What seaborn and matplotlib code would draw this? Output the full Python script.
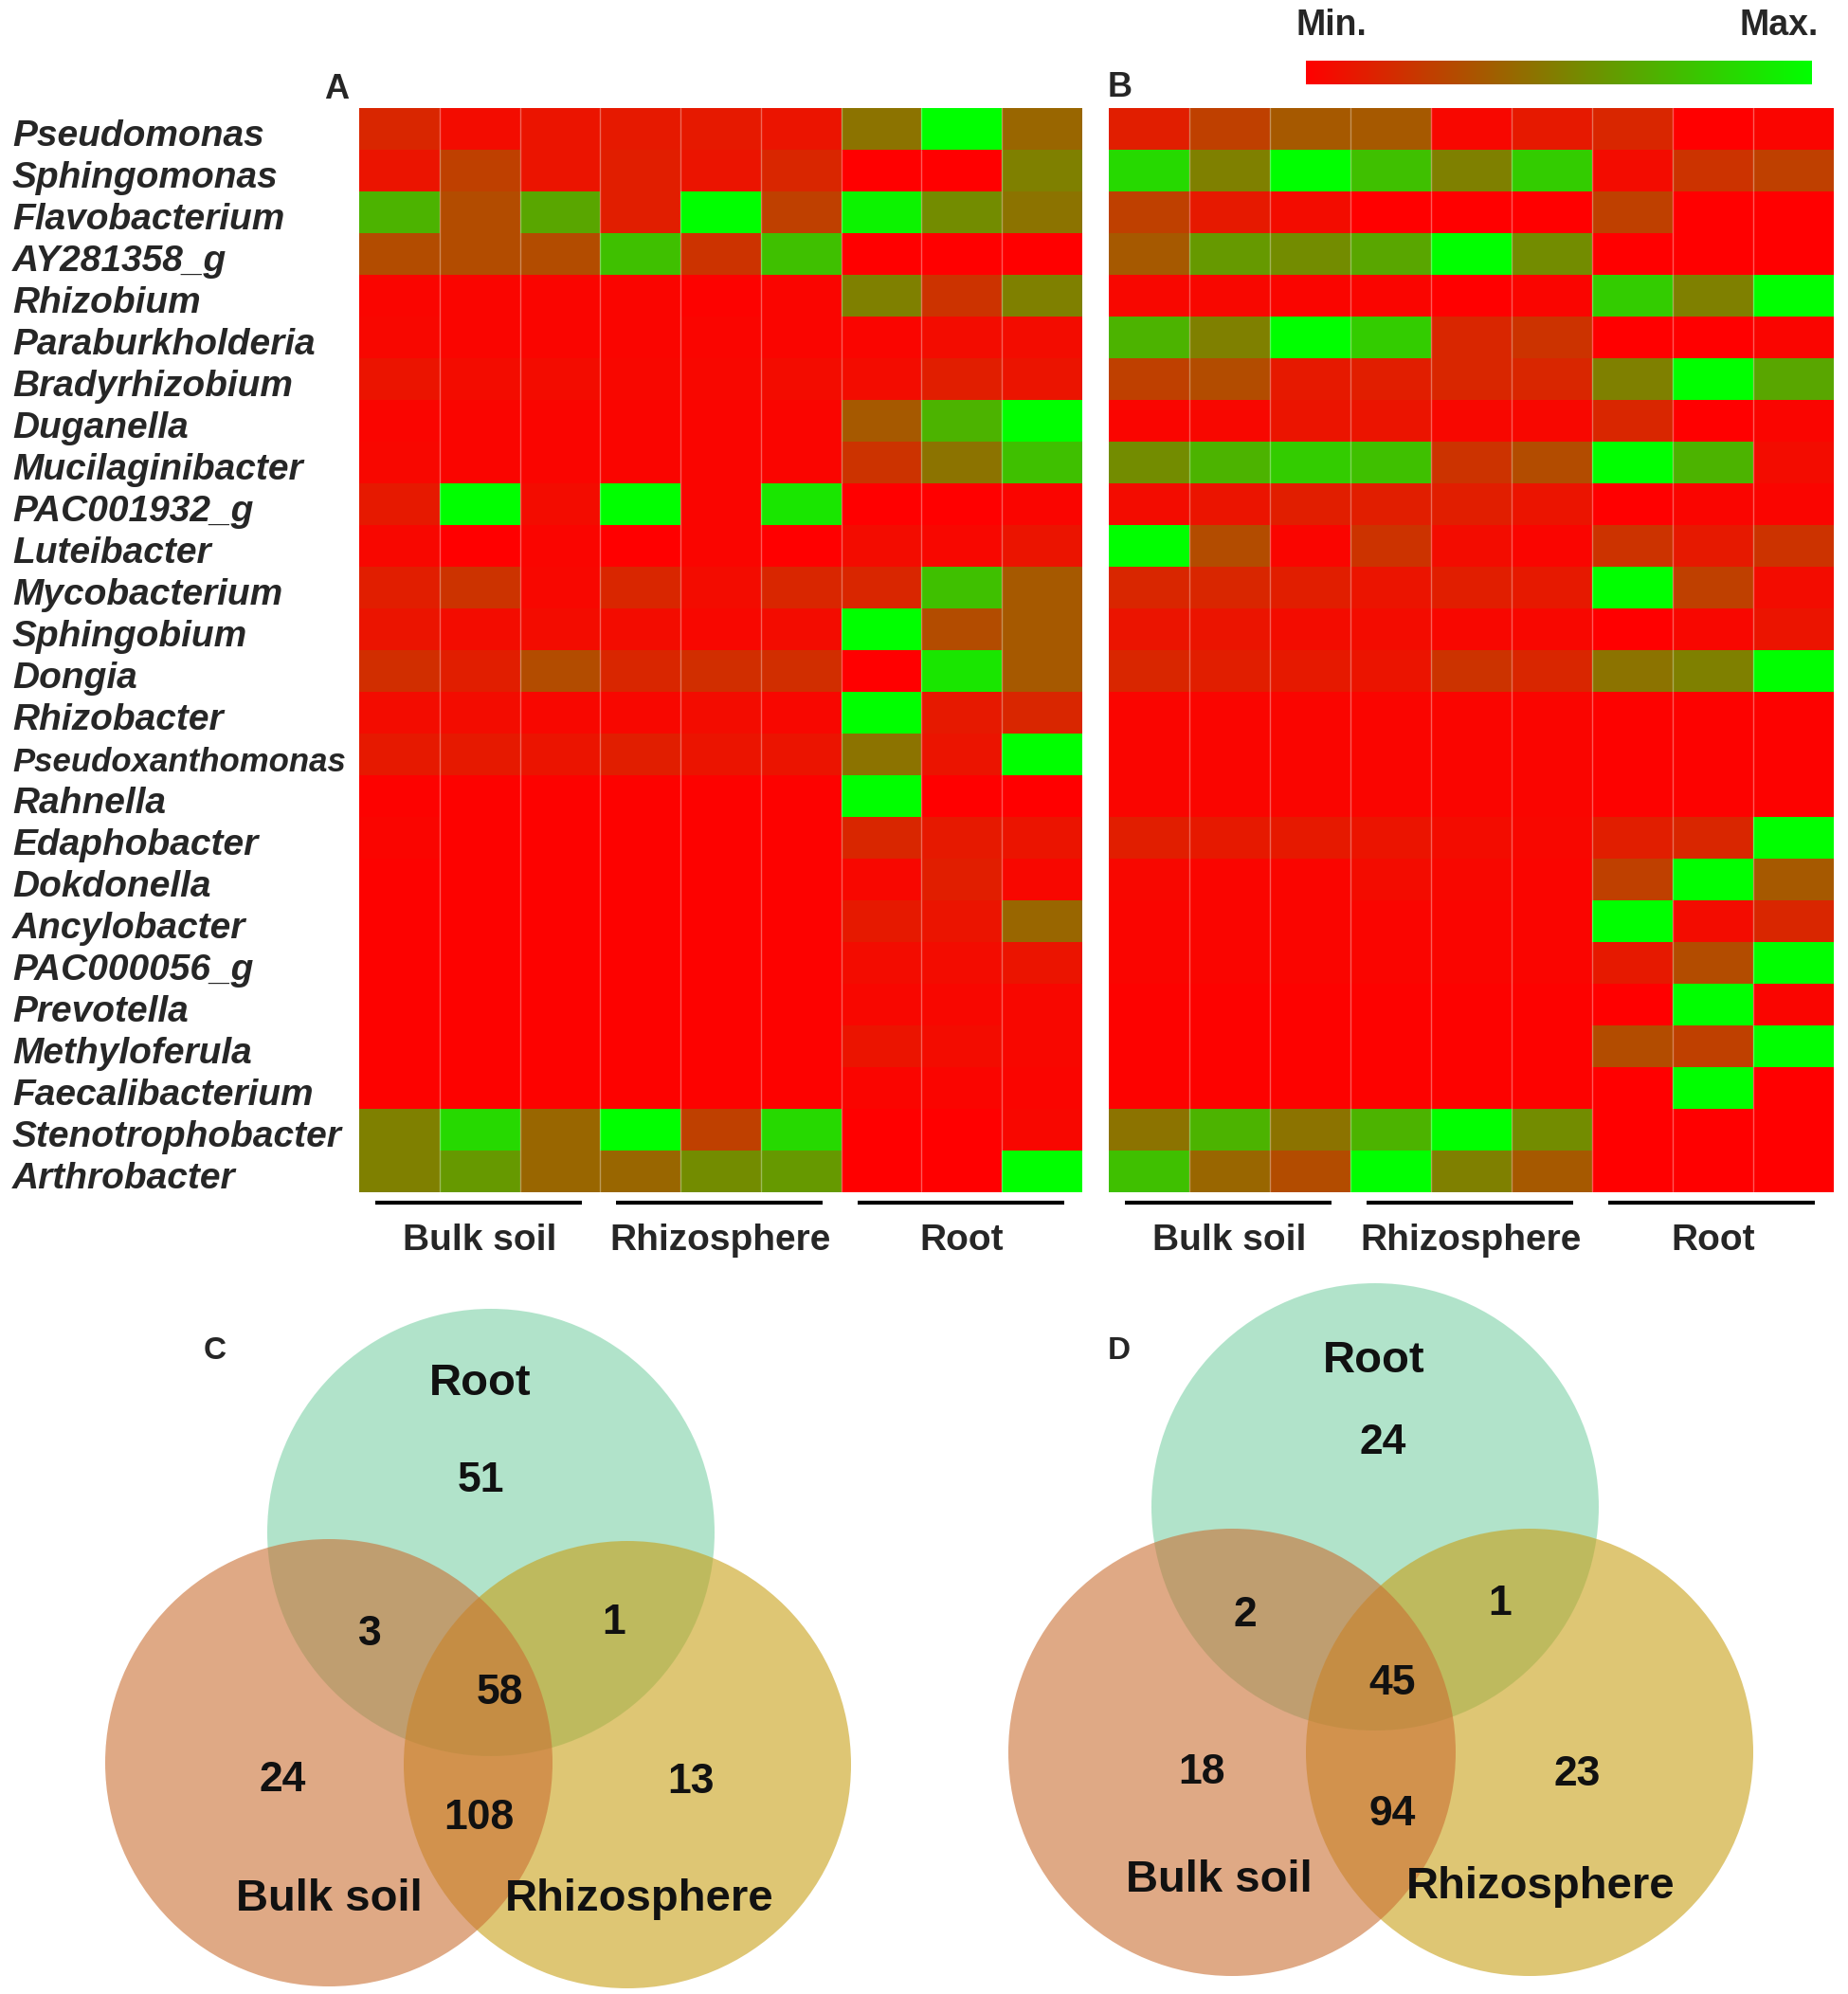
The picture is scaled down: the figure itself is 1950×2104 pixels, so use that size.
import numpy as np
import pandas as pd
import matplotlib
matplotlib.use("Agg")
import matplotlib.pyplot as plt
import matplotlib.transforms as mtransforms
import seaborn as sns
from matplotlib.colors import LinearSegmentedColormap
from matplotlib.patches import Circle

# ---------------- data ----------------
genera = ["Pseudomonas", "Sphingomonas", "Flavobacterium", "AY281358_g", "Rhizobium",
          "Paraburkholderia", "Bradyrhizobium", "Duganella", "Mucilaginibacter",
          "PAC001932_g", "Luteibacter", "Mycobacterium", "Sphingobium", "Dongia",
          "Rhizobacter", "Pseudoxanthomonas", "Rahnella", "Edaphobacter", "Dokdonella",
          "Ancylobacter", "PAC000056_g", "Prevotella", "Methyloferula",
          "Faecalibacterium", "Stenotrophobacter", "Arthrobacter"]
groups = ["Bulk soil", "Rhizosphere", "Root"]
samples = ["BS1", "BS2", "BS3", "RS1", "RS2", "RS3", "RT1", "RT2", "RT3"]

panel_a = [
    [0.15, 0.05, 0.08, 0.10, 0.10, 0.08, 0.45, 1.00, 0.40],
    [0.08, 0.25, 0.08, 0.12, 0.08, 0.15, 0.00, 0.00, 0.50],
    [0.70, 0.30, 0.65, 0.12, 1.00, 0.25, 0.95, 0.55, 0.45],
    [0.30, 0.30, 0.30, 0.75, 0.20, 0.75, 0.00, 0.00, 0.00],
    [0.02, 0.02, 0.02, 0.02, 0.01, 0.02, 0.50, 0.20, 0.50],
    [0.03, 0.02, 0.02, 0.02, 0.02, 0.02, 0.02, 0.05, 0.05],
    [0.08, 0.05, 0.05, 0.03, 0.03, 0.05, 0.05, 0.12, 0.08],
    [0.02, 0.02, 0.02, 0.02, 0.02, 0.02, 0.35, 0.70, 1.00],
    [0.03, 0.02, 0.02, 0.02, 0.02, 0.02, 0.20, 0.45, 0.75],
    [0.10, 1.00, 0.05, 1.00, 0.02, 0.90, 0.00, 0.00, 0.02],
    [0.03, 0.00, 0.02, 0.00, 0.02, 0.00, 0.05, 0.03, 0.08],
    [0.12, 0.20, 0.03, 0.15, 0.05, 0.15, 0.15, 0.75, 0.35],
    [0.08, 0.05, 0.05, 0.05, 0.03, 0.05, 1.00, 0.30, 0.35],
    [0.18, 0.12, 0.30, 0.15, 0.18, 0.18, 0.00, 0.90, 0.35],
    [0.05, 0.05, 0.03, 0.03, 0.05, 0.03, 1.00, 0.10, 0.15],
    [0.10, 0.10, 0.08, 0.12, 0.08, 0.08, 0.45, 0.08, 1.00],
    [0.01, 0.01, 0.01, 0.01, 0.01, 0.01, 1.00, 0.00, 0.00],
    [0.02, 0.01, 0.01, 0.01, 0.01, 0.01, 0.15, 0.10, 0.08],
    [0.01, 0.01, 0.01, 0.01, 0.01, 0.01, 0.03, 0.12, 0.03],
    [0.01, 0.01, 0.01, 0.01, 0.01, 0.01, 0.10, 0.08, 0.40],
    [0.01, 0.01, 0.01, 0.01, 0.01, 0.01, 0.05, 0.05, 0.08],
    [0.01, 0.01, 0.01, 0.01, 0.01, 0.01, 0.03, 0.03, 0.03],
    [0.01, 0.01, 0.01, 0.01, 0.01, 0.01, 0.08, 0.05, 0.03],
    [0.01, 0.01, 0.01, 0.01, 0.01, 0.01, 0.02, 0.02, 0.02],
    [0.50, 0.85, 0.40, 1.00, 0.25, 0.85, 0.00, 0.00, 0.03],
    [0.50, 0.60, 0.40, 0.40, 0.55, 0.60, 0.00, 0.00, 1.00],
]

panel_b = [
    [0.12, 0.25, 0.35, 0.35, 0.03, 0.10, 0.15, 0.00, 0.02],
    [0.85, 0.50, 1.00, 0.75, 0.50, 0.80, 0.05, 0.20, 0.25],
    [0.25, 0.10, 0.05, 0.00, 0.00, 0.00, 0.25, 0.00, 0.00],
    [0.35, 0.60, 0.55, 0.65, 1.00, 0.55, 0.00, 0.00, 0.00],
    [0.03, 0.03, 0.02, 0.02, 0.00, 0.02, 0.80, 0.50, 1.00],
    [0.70, 0.50, 1.00, 0.80, 0.15, 0.20, 0.00, 0.00, 0.02],
    [0.25, 0.30, 0.10, 0.12, 0.15, 0.15, 0.50, 1.00, 0.65],
    [0.02, 0.03, 0.08, 0.08, 0.03, 0.03, 0.15, 0.00, 0.02],
    [0.55, 0.70, 0.80, 0.75, 0.20, 0.30, 1.00, 0.70, 0.05],
    [0.05, 0.08, 0.12, 0.12, 0.12, 0.08, 0.00, 0.02, 0.02],
    [1.00, 0.30, 0.02, 0.20, 0.05, 0.02, 0.20, 0.10, 0.20],
    [0.15, 0.15, 0.12, 0.08, 0.12, 0.10, 1.00, 0.25, 0.05],
    [0.08, 0.08, 0.05, 0.05, 0.03, 0.03, 0.00, 0.03, 0.08],
    [0.15, 0.12, 0.10, 0.08, 0.20, 0.15, 0.45, 0.50, 1.00],
    [0.02, 0.02, 0.02, 0.02, 0.02, 0.02, 0.01, 0.01, 0.01],
    [0.02, 0.02, 0.02, 0.02, 0.02, 0.02, 0.01, 0.01, 0.01],
    [0.02, 0.02, 0.02, 0.02, 0.02, 0.02, 0.01, 0.01, 0.01],
    [0.12, 0.10, 0.10, 0.08, 0.05, 0.03, 0.12, 0.15, 1.00],
    [0.03, 0.02, 0.02, 0.05, 0.03, 0.02, 0.25, 1.00, 0.35],
    [0.02, 0.02, 0.02, 0.02, 0.02, 0.02, 1.00, 0.05, 0.15],
    [0.02, 0.02, 0.02, 0.02, 0.02, 0.02, 0.10, 0.30, 1.00],
    [0.01, 0.01, 0.01, 0.01, 0.01, 0.01, 0.00, 1.00, 0.02],
    [0.01, 0.01, 0.01, 0.01, 0.01, 0.01, 0.30, 0.25, 1.00],
    [0.01, 0.01, 0.01, 0.01, 0.01, 0.01, 0.00, 1.00, 0.00],
    [0.45, 0.70, 0.45, 0.70, 1.00, 0.55, 0.00, 0.00, 0.00],
    [0.75, 0.40, 0.30, 1.00, 0.50, 0.35, 0.00, 0.00, 0.00],
]

venn_labels = ["Root", "Bulk soil", "Rhizosphere"]
# region order: Root only, Root&Bulk, Root&Rhizo, all three, Bulk only, Rhizo only, Bulk&Rhizo
venn_c_counts = [51, 3, 1, 58, 24, 13, 108]
venn_d_counts = [24, 2, 1, 45, 18, 23, 94]

# ---------------- style ----------------
sns.set_theme(style="white")
plt.rcParams["font.family"] = ["Liberation Sans", "DejaVu Sans"]

W, H = 1950, 2104
fig = plt.figure(figsize=(W / 100, H / 100), dpi=100)


def box(x0, y0, x1, y1):
    return [x0 / W, 1 - y1 / H, (x1 - x0) / W, (y1 - y0) / H]


cmap = LinearSegmentedColormap.from_list("red_green", ["#ff0000", "#00ff00"])

dfA = pd.DataFrame(panel_a, index=genera, columns=samples)
dfB = pd.DataFrame(panel_b, index=genera, columns=samples)

axA = fig.add_axes(box(379, 114, 1142, 1258))
axB = fig.add_axes(box(1170, 114, 1935, 1258))
cax = fig.add_axes(box(1378, 64, 1912, 89))

sns.heatmap(dfA, ax=axA, cmap=cmap, vmin=0, vmax=1, cbar=False,
            xticklabels=False, yticklabels=True)
sns.heatmap(dfB, ax=axB, cmap=cmap, vmin=0, vmax=1, cbar=True, cbar_ax=cax,
            cbar_kws={"orientation": "horizontal"},
            xticklabels=False, yticklabels=False)

# colorbar cosmetics
cax.set_xticks([])
cax.set_yticks([])
for s in cax.spines.values():
    s.set_visible(False)
cbar = axB.collections[0].colorbar
cbar.outline.set_visible(False)
fig.text(1405 / W, 1 - 27 / H, "Min.", ha="center", va="center",
         fontsize=27, fontweight="bold")
fig.text(1877 / W, 1 - 27 / H, "Max.", ha="center", va="center",
         fontsize=27, fontweight="bold")

# row labels
axA.set_yticklabels(genera, rotation=0, ha="left", fontsize=28,
                    fontweight="bold", fontstyle="italic")
axA.tick_params(axis="y", length=0, pad=366 * 0.72)
shift = mtransforms.ScaledTranslation(0, -8 / 100, fig.dpi_scale_trans)
for lab in axA.get_yticklabels():
    lab.set_transform(lab.get_transform() + shift)
    if lab.get_text() == "Pseudoxanthomonas":
        lab.set_fontsize(25)

for ax in (axA, axB):
    for c in range(1, 9):
        ax.axvline(c, color="white", lw=1, alpha=0.35)
    for g, name in enumerate(groups):
        ax.plot([3 * g + 0.2, 3 * g + 2.77], [26.25, 26.25], color="black",
                lw=3, clip_on=False, solid_capstyle="butt")
        ax.text(3 * g + 1.5, 27.15, name, ha="center", va="center",
                fontsize=28, fontweight="bold")
    for s in ax.spines.values():
        s.set_visible(False)

fig.text(355 / W, 1 - 94 / H, "A", ha="center", va="center",
         fontsize=26, fontweight="bold")
fig.text(1182 / W, 1 - 93 / H, "B", ha="center", va="center",
         fontsize=26, fontweight="bold")

# ---------------- Venn diagrams ----------------
axV = fig.add_axes([0, 0, 1, 1], zorder=-1)
axV.set_xlim(0, W)
axV.set_ylim(H, 0)
axV.axis("off")

root_col = (101 / 255, 201 / 255, 151 / 255)
bulk_col = (202 / 255, 112 / 255, 52 / 255)
rhizo_col = (200 / 255, 160 / 255, 23 / 255)
R = 236


def venn(centers, counts, count_pos, label_pos, letter, letter_pos):
    (rc, bc, zc) = centers
    axV.add_patch(Circle(rc, R, facecolor=root_col, alpha=0.5, lw=0, zorder=1))
    axV.add_patch(Circle(zc, R, facecolor=rhizo_col, alpha=0.6, lw=0, zorder=2))
    axV.add_patch(Circle(bc, R, facecolor=bulk_col, alpha=0.6, lw=0, zorder=3))
    for n, (x, y) in zip(counts, count_pos):
        axV.text(x, y, str(n), ha="center", va="center", fontsize=32,
                 fontweight="bold", color="#111111", zorder=5)
    for name, (x, y) in zip(venn_labels, label_pos):
        axV.text(x, y, name, ha="center", va="center", fontsize=34,
                 fontweight="bold", color="#111111", zorder=5)
    axV.text(letter_pos[0], letter_pos[1], letter, ha="center", va="center",
             fontsize=24, fontweight="bold", zorder=5)


venn(centers=[(518, 1617), (347, 1860), (662, 1862)],
     counts=venn_c_counts,
     count_pos=[(507, 1563), (390, 1724), (648, 1713), (527, 1786),
                (298, 1878), (729, 1880), (505, 1918)],
     label_pos=[(507, 1460), (347, 2004), (675, 2004)],
     letter="C", letter_pos=(227, 1425))

venn(centers=[(1451, 1590), (1300, 1849), (1614, 1849)],
     counts=venn_d_counts,
     count_pos=[(1459, 1522), (1314, 1705), (1583, 1693), (1469, 1777),
                (1268, 1870), (1664, 1873), (1469, 1915)],
     label_pos=[(1450, 1436), (1286, 1984), (1626, 1991)],
     letter="D", letter_pos=(1181, 1426))

fig.savefig("out.png", dpi=100)
